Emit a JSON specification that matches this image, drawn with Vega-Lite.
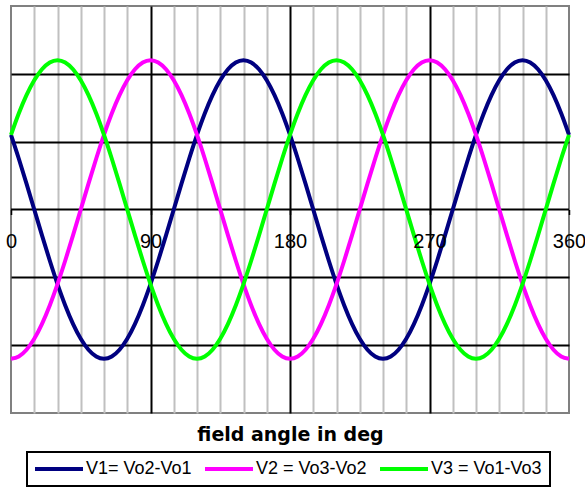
{
  "$schema": "https://vega.github.io/schema/vega-lite/v6.json",
  "width": 558,
  "height": 407,
  "autosize": {"type": "none"},
  "padding": {"left": 11, "top": 6, "right": 16, "bottom": 74},
  "config": {
    "font": "Liberation Sans",
    "view": {"stroke": "#808080", "strokeWidth": 2}
  },
  "resolve": {"axis": {"x": "independent"}},
  "layer": [
    {
      "data": {"values": [{}]},
      "mark": {"type": "rule", "color": "black", "strokeWidth": 2},
      "encoding": {
        "x": {
          "datum": 0,
          "type": "quantitative",
          "scale": {"domain": [0, 360], "nice": false},
          "axis": {
            "orient": "bottom",
            "offset": -203.5,
            "values": [0, 90, 180, 270, 360],
            "grid": false,
            "domain": false,
            "ticks": true,
            "tickSize": 5,
            "tickColor": "black",
            "tickWidth": 1.5,
            "labelFontSize": 20,
            "labelColor": "black",
            "labelPadding": 17,
            "labelFlush": false,
            "labelOverlap": false,
            "labelBound": false,
            "title": null,
            "zindex": 1
          }
        },
        "x2": {"datum": 360},
        "y": {"datum": 0, "type": "quantitative"}
      }
    },
    {
      "data": {
        "values": [
          {"a":0,"s":"V1","v":1.1},{"a":5,"s":"V1","v":0.752},{"a":10,"s":"V1","v":0.382},{"a":15,"s":"V1","v":0},{"a":20,"s":"V1","v":-0.382},{"a":25,"s":"V1","v":-0.752},{"a":30,"s":"V1","v":-1.1},{"a":35,"s":"V1","v":-1.414},{"a":40,"s":"V1","v":-1.685},{"a":45,"s":"V1","v":-1.905},{"a":50,"s":"V1","v":-2.067},{"a":55,"s":"V1","v":-2.167},{"a":60,"s":"V1","v":-2.2},{"a":65,"s":"V1","v":-2.167},{"a":70,"s":"V1","v":-2.067},{"a":75,"s":"V1","v":-1.905},{"a":80,"s":"V1","v":-1.685},{"a":85,"s":"V1","v":-1.414},{"a":90,"s":"V1","v":-1.1},{"a":95,"s":"V1","v":-0.752},{"a":100,"s":"V1","v":-0.382},{"a":105,"s":"V1","v":0},{"a":110,"s":"V1","v":0.382},{"a":115,"s":"V1","v":0.752},{"a":120,"s":"V1","v":1.1},{"a":125,"s":"V1","v":1.414},{"a":130,"s":"V1","v":1.685},{"a":135,"s":"V1","v":1.905},{"a":140,"s":"V1","v":2.067},{"a":145,"s":"V1","v":2.167},{"a":150,"s":"V1","v":2.2},{"a":155,"s":"V1","v":2.167},{"a":160,"s":"V1","v":2.067},{"a":165,"s":"V1","v":1.905},{"a":170,"s":"V1","v":1.685},{"a":175,"s":"V1","v":1.414},
          {"a":180,"s":"V1","v":1.1},{"a":185,"s":"V1","v":0.752},{"a":190,"s":"V1","v":0.382},{"a":195,"s":"V1","v":0},{"a":200,"s":"V1","v":-0.382},{"a":205,"s":"V1","v":-0.752},{"a":210,"s":"V1","v":-1.1},{"a":215,"s":"V1","v":-1.414},{"a":220,"s":"V1","v":-1.685},{"a":225,"s":"V1","v":-1.905},{"a":230,"s":"V1","v":-2.067},{"a":235,"s":"V1","v":-2.167},{"a":240,"s":"V1","v":-2.2},{"a":245,"s":"V1","v":-2.167},{"a":250,"s":"V1","v":-2.067},{"a":255,"s":"V1","v":-1.905},{"a":260,"s":"V1","v":-1.685},{"a":265,"s":"V1","v":-1.414},{"a":270,"s":"V1","v":-1.1},{"a":275,"s":"V1","v":-0.752},{"a":280,"s":"V1","v":-0.382},{"a":285,"s":"V1","v":0},{"a":290,"s":"V1","v":0.382},{"a":295,"s":"V1","v":0.752},{"a":300,"s":"V1","v":1.1},{"a":305,"s":"V1","v":1.414},{"a":310,"s":"V1","v":1.685},{"a":315,"s":"V1","v":1.905},{"a":320,"s":"V1","v":2.067},{"a":325,"s":"V1","v":2.167},{"a":330,"s":"V1","v":2.2},{"a":335,"s":"V1","v":2.167},{"a":340,"s":"V1","v":2.067},{"a":345,"s":"V1","v":1.905},{"a":350,"s":"V1","v":1.685},{"a":355,"s":"V1","v":1.414},{"a":360,"s":"V1","v":1.1},
          {"a":0,"s":"V2","v":-2.2},{"a":5,"s":"V2","v":-2.167},{"a":10,"s":"V2","v":-2.067},{"a":15,"s":"V2","v":-1.905},{"a":20,"s":"V2","v":-1.685},{"a":25,"s":"V2","v":-1.414},{"a":30,"s":"V2","v":-1.1},{"a":35,"s":"V2","v":-0.752},{"a":40,"s":"V2","v":-0.382},{"a":45,"s":"V2","v":0},{"a":50,"s":"V2","v":0.382},{"a":55,"s":"V2","v":0.752},{"a":60,"s":"V2","v":1.1},{"a":65,"s":"V2","v":1.414},{"a":70,"s":"V2","v":1.685},{"a":75,"s":"V2","v":1.905},{"a":80,"s":"V2","v":2.067},{"a":85,"s":"V2","v":2.167},{"a":90,"s":"V2","v":2.2},{"a":95,"s":"V2","v":2.167},{"a":100,"s":"V2","v":2.067},{"a":105,"s":"V2","v":1.905},{"a":110,"s":"V2","v":1.685},{"a":115,"s":"V2","v":1.414},{"a":120,"s":"V2","v":1.1},{"a":125,"s":"V2","v":0.752},{"a":130,"s":"V2","v":0.382},{"a":135,"s":"V2","v":0},{"a":140,"s":"V2","v":-0.382},{"a":145,"s":"V2","v":-0.752},{"a":150,"s":"V2","v":-1.1},{"a":155,"s":"V2","v":-1.414},{"a":160,"s":"V2","v":-1.685},{"a":165,"s":"V2","v":-1.905},{"a":170,"s":"V2","v":-2.067},{"a":175,"s":"V2","v":-2.167},
          {"a":180,"s":"V2","v":-2.2},{"a":185,"s":"V2","v":-2.167},{"a":190,"s":"V2","v":-2.067},{"a":195,"s":"V2","v":-1.905},{"a":200,"s":"V2","v":-1.685},{"a":205,"s":"V2","v":-1.414},{"a":210,"s":"V2","v":-1.1},{"a":215,"s":"V2","v":-0.752},{"a":220,"s":"V2","v":-0.382},{"a":225,"s":"V2","v":0},{"a":230,"s":"V2","v":0.382},{"a":235,"s":"V2","v":0.752},{"a":240,"s":"V2","v":1.1},{"a":245,"s":"V2","v":1.414},{"a":250,"s":"V2","v":1.685},{"a":255,"s":"V2","v":1.905},{"a":260,"s":"V2","v":2.067},{"a":265,"s":"V2","v":2.167},{"a":270,"s":"V2","v":2.2},{"a":275,"s":"V2","v":2.167},{"a":280,"s":"V2","v":2.067},{"a":285,"s":"V2","v":1.905},{"a":290,"s":"V2","v":1.685},{"a":295,"s":"V2","v":1.414},{"a":300,"s":"V2","v":1.1},{"a":305,"s":"V2","v":0.752},{"a":310,"s":"V2","v":0.382},{"a":315,"s":"V2","v":0},{"a":320,"s":"V2","v":-0.382},{"a":325,"s":"V2","v":-0.752},{"a":330,"s":"V2","v":-1.1},{"a":335,"s":"V2","v":-1.414},{"a":340,"s":"V2","v":-1.685},{"a":345,"s":"V2","v":-1.905},{"a":350,"s":"V2","v":-2.067},{"a":355,"s":"V2","v":-2.167},{"a":360,"s":"V2","v":-2.2},
          {"a":0,"s":"V3","v":1.1},{"a":5,"s":"V3","v":1.414},{"a":10,"s":"V3","v":1.685},{"a":15,"s":"V3","v":1.905},{"a":20,"s":"V3","v":2.067},{"a":25,"s":"V3","v":2.167},{"a":30,"s":"V3","v":2.2},{"a":35,"s":"V3","v":2.167},{"a":40,"s":"V3","v":2.067},{"a":45,"s":"V3","v":1.905},{"a":50,"s":"V3","v":1.685},{"a":55,"s":"V3","v":1.414},{"a":60,"s":"V3","v":1.1},{"a":65,"s":"V3","v":0.752},{"a":70,"s":"V3","v":0.382},{"a":75,"s":"V3","v":0},{"a":80,"s":"V3","v":-0.382},{"a":85,"s":"V3","v":-0.752},{"a":90,"s":"V3","v":-1.1},{"a":95,"s":"V3","v":-1.414},{"a":100,"s":"V3","v":-1.685},{"a":105,"s":"V3","v":-1.905},{"a":110,"s":"V3","v":-2.067},{"a":115,"s":"V3","v":-2.167},{"a":120,"s":"V3","v":-2.2},{"a":125,"s":"V3","v":-2.167},{"a":130,"s":"V3","v":-2.067},{"a":135,"s":"V3","v":-1.905},{"a":140,"s":"V3","v":-1.685},{"a":145,"s":"V3","v":-1.414},{"a":150,"s":"V3","v":-1.1},{"a":155,"s":"V3","v":-0.752},{"a":160,"s":"V3","v":-0.382},{"a":165,"s":"V3","v":0},{"a":170,"s":"V3","v":0.382},{"a":175,"s":"V3","v":0.752},
          {"a":180,"s":"V3","v":1.1},{"a":185,"s":"V3","v":1.414},{"a":190,"s":"V3","v":1.685},{"a":195,"s":"V3","v":1.905},{"a":200,"s":"V3","v":2.067},{"a":205,"s":"V3","v":2.167},{"a":210,"s":"V3","v":2.2},{"a":215,"s":"V3","v":2.167},{"a":220,"s":"V3","v":2.067},{"a":225,"s":"V3","v":1.905},{"a":230,"s":"V3","v":1.685},{"a":235,"s":"V3","v":1.414},{"a":240,"s":"V3","v":1.1},{"a":245,"s":"V3","v":0.752},{"a":250,"s":"V3","v":0.382},{"a":255,"s":"V3","v":0},{"a":260,"s":"V3","v":-0.382},{"a":265,"s":"V3","v":-0.752},{"a":270,"s":"V3","v":-1.1},{"a":275,"s":"V3","v":-1.414},{"a":280,"s":"V3","v":-1.685},{"a":285,"s":"V3","v":-1.905},{"a":290,"s":"V3","v":-2.067},{"a":295,"s":"V3","v":-2.167},{"a":300,"s":"V3","v":-2.2},{"a":305,"s":"V3","v":-2.167},{"a":310,"s":"V3","v":-2.067},{"a":315,"s":"V3","v":-1.905},{"a":320,"s":"V3","v":-1.685},{"a":325,"s":"V3","v":-1.414},{"a":330,"s":"V3","v":-1.1},{"a":335,"s":"V3","v":-0.752},{"a":340,"s":"V3","v":-0.382},{"a":345,"s":"V3","v":0},{"a":350,"s":"V3","v":0.382},{"a":355,"s":"V3","v":0.752},{"a":360,"s":"V3","v":1.1}
        ]
      },
      "mark": {"type": "line", "strokeWidth": 4, "interpolate": "monotone"},
      "encoding": {
        "x": {
          "field": "a",
          "type": "quantitative",
          "scale": {"domain": [0, 360], "nice": false},
          "axis": {
            "orient": "bottom",
            "values": [15, 30, 45, 60, 75, 90, 105, 120, 135, 150, 165, 180, 195, 210, 225, 240, 255, 270, 285, 300, 315, 330, 345],
            "grid": true,
            "gridColor": {"condition": {"test": "datum.value % 90 === 0", "value": "black"}, "value": "#c0c0c0"},
            "gridWidth": 2,
            "gridOpacity": 1,
            "labels": false,
            "ticks": false,
            "domain": false,
            "title": "field angle in deg",
            "titleFont": "DejaVu Sans",
            "titleFontSize": 19,
            "titleFontWeight": "bold",
            "titleColor": "black",
            "titlePadding": 12
          }
        },
        "y": {
          "field": "v",
          "type": "quantitative",
          "scale": {"domain": [-3, 3], "nice": false},
          "axis": {
            "values": [-2, -1, 1, 2],
            "grid": true,
            "gridColor": "black",
            "gridWidth": 2,
            "gridOpacity": 1,
            "labels": false,
            "ticks": false,
            "domain": false,
            "title": null
          }
        },
        "color": {
          "field": "s",
          "type": "nominal",
          "scale": {"domain": ["V1", "V2", "V3"], "range": ["#000080", "#ff00ff", "#00ff00"]},
          "legend": {
            "orient": "none",
            "legendX": 16,
            "legendY": 446,
            "direction": "horizontal",
            "title": null,
            "labelExpr": "datum.label == 'V1' ? 'V1= Vo2-Vo1' : datum.label == 'V2' ? 'V2 = Vo3-Vo2' : 'V3 = Vo1-Vo3'",
            "strokeColor": "black",
            "padding": 8,
            "labelFontSize": 18,
            "labelColor": "black",
            "labelLimit": 0,
            "labelOffset": 33,
            "columnPadding": 5,
            "symbolType": "M-1.5,0H6.5",
            "symbolSize": 144,
            "symbolStrokeWidth": 4,
            "encode": {"legend": {"update": {"strokeWidth": {"value": 2}}}}
          }
        }
      }
    }
  ]
}
